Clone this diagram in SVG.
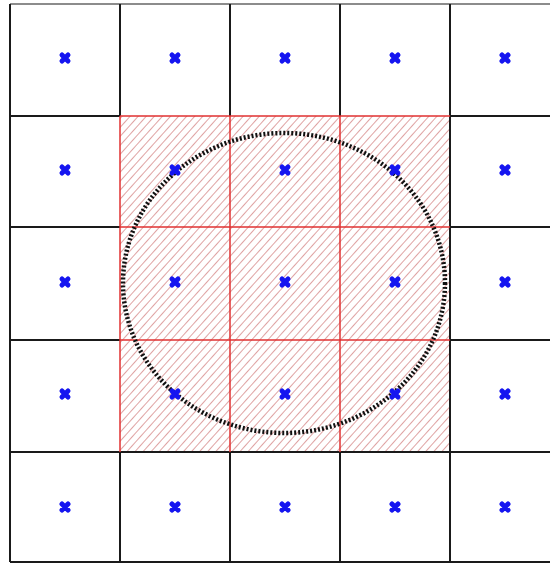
<svg xmlns="http://www.w3.org/2000/svg" xmlns:xlink="http://www.w3.org/1999/xlink" width="550" height="563" viewBox="0 0 550 563">
  <style>
    .grid { stroke: #1a1a1a; stroke-width: 2; fill: none; }
    .redgrid { stroke: #e03030; stroke-width: 1.5; fill: none; }
    .circle { stroke: #111; stroke-width: 4.5; fill: none; stroke-dasharray: 2 2; }
    .mark { stroke: #1515f0; stroke-width: 5; stroke-linecap: round; fill: none; }
  </style>
  <defs>
    <pattern id="hatch" patternUnits="userSpaceOnUse" width="6" height="10" patternTransform="rotate(42)">
      <line x1="0" y1="-2" x2="0" y2="12" stroke="#c04848" stroke-width="1"/>
    </pattern>
    <path id="m" class="mark" d="M-3,-3 L3,3 M3,-3 L-3,3"/>
  </defs>
  <rect width="550" height="563" fill="#ffffff"/>

  <g id="hatched-region">
    <rect x="120" y="116" width="330" height="336" fill="url(#hatch)"/>
  </g>

  <g id="grid">
    <line x1="10" y1="4" x2="560" y2="4" style="stroke:#666;stroke-width:1.5"/>
    <line class="grid" x1="10" y1="116" x2="120" y2="116"/>
    <line class="grid" x1="450" y1="116" x2="560" y2="116"/>
    <line class="grid" x1="10" y1="227" x2="120" y2="227"/>
    <line class="grid" x1="450" y1="227" x2="560" y2="227"/>
    <line class="grid" x1="10" y1="340" x2="120" y2="340"/>
    <line class="grid" x1="450" y1="340" x2="560" y2="340"/>
    <line class="grid" x1="10" y1="452" x2="560" y2="452"/>
    <line class="grid" x1="10" y1="562" x2="560" y2="562"/>
    <line class="grid" x1="10" y1="4" x2="10" y2="562"/>
    <line class="grid" x1="120" y1="4" x2="120" y2="116"/>
    <line class="grid" x1="120" y1="452" x2="120" y2="562"/>
    <line class="grid" x1="230" y1="4" x2="230" y2="116"/>
    <line class="grid" x1="230" y1="452" x2="230" y2="562"/>
    <line class="grid" x1="340" y1="4" x2="340" y2="116"/>
    <line class="grid" x1="340" y1="452" x2="340" y2="562"/>
    <line class="grid" x1="450" y1="4" x2="450" y2="562"/>
  </g>

  <g id="red-grid">
    <line class="redgrid" x1="120" y1="116" x2="450" y2="116"/>
    <line class="redgrid" x1="120" y1="227" x2="450" y2="227"/>
    <line class="redgrid" x1="120" y1="340" x2="450" y2="340"/>
    <line class="redgrid" x1="120" y1="116" x2="120" y2="452"/>
    <line class="redgrid" x1="230" y1="116" x2="230" y2="452"/>
    <line class="redgrid" x1="340" y1="116" x2="340" y2="452"/>
  </g>

  <g id="circle">
    <ellipse class="circle" cx="284" cy="283" rx="161" ry="150"/>
  </g>

  <g id="markers">
    <use xlink:href="#m" x="65" y="58"/>
    <use xlink:href="#m" x="175" y="58"/>
    <use xlink:href="#m" x="285" y="58"/>
    <use xlink:href="#m" x="395" y="58"/>
    <use xlink:href="#m" x="505" y="58"/>
    <use xlink:href="#m" x="65" y="170"/>
    <use xlink:href="#m" x="175" y="170"/>
    <use xlink:href="#m" x="285" y="170"/>
    <use xlink:href="#m" x="395" y="170"/>
    <use xlink:href="#m" x="505" y="170"/>
    <use xlink:href="#m" x="65" y="282"/>
    <use xlink:href="#m" x="175" y="282"/>
    <use xlink:href="#m" x="285" y="282"/>
    <use xlink:href="#m" x="395" y="282"/>
    <use xlink:href="#m" x="505" y="282"/>
    <use xlink:href="#m" x="65" y="394"/>
    <use xlink:href="#m" x="175" y="394"/>
    <use xlink:href="#m" x="285" y="394"/>
    <use xlink:href="#m" x="395" y="394"/>
    <use xlink:href="#m" x="505" y="394"/>
    <use xlink:href="#m" x="65" y="507"/>
    <use xlink:href="#m" x="175" y="507"/>
    <use xlink:href="#m" x="285" y="507"/>
    <use xlink:href="#m" x="395" y="507"/>
    <use xlink:href="#m" x="505" y="507"/>
  </g>
</svg>
